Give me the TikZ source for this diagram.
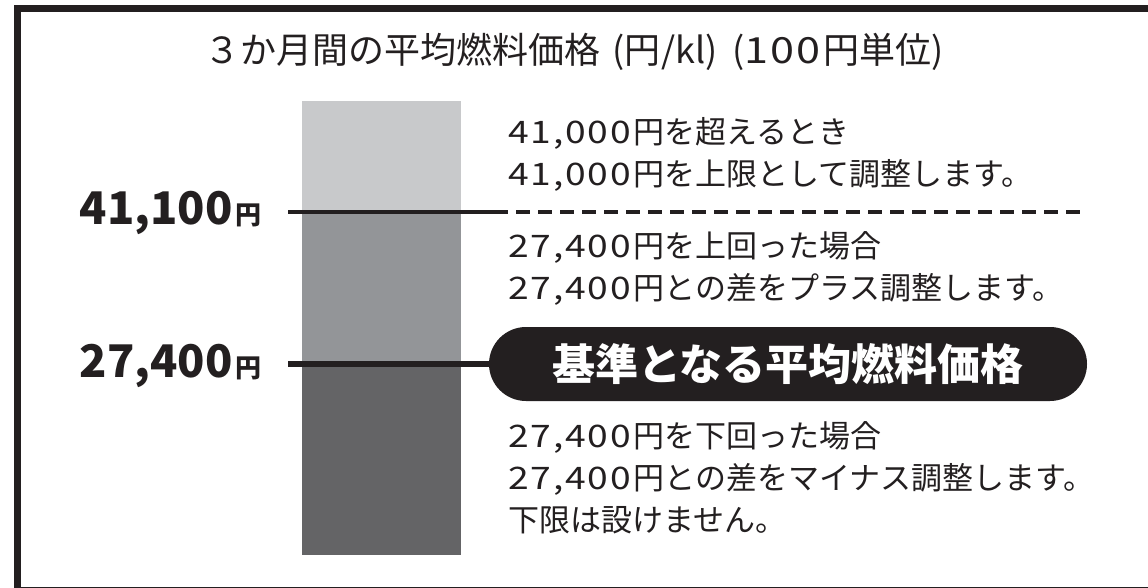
\documentclass[tikz,border=0pt]{standalone}
\usepackage{fontspec}
\usepackage{graphicx}
\setmainfont{Noto Sans CJK JP}
\newfontfamily\digs[LetterSpace=5]{Noto Sans CJK JP}
\newcommand\nm[1]{\scalebox{1.2}[1]{\digs #1}\hspace{0.08em}}
\definecolor{ink}{HTML}{231F20}
\definecolor{barlight}{HTML}{C8C9CB}
\definecolor{barmid}{HTML}{939598}
\definecolor{bardark}{HTML}{646466}
\tikzset{
  body/.style={anchor=west, inner sep=0pt, text=ink, align=left,
    font=\fontsize{31}{42}\selectfont},
  price/.style={anchor=east, inner sep=0pt, text=ink},
  level/.style={draw=ink, line width=3.2pt},
  baseline/.style={draw=ink, line width=6.5pt},
  dashline/.style={draw=ink, line width=3.2pt, dash pattern=on 14pt off 8pt},
  pill/.style={rectangle, rounded corners=37pt, fill=ink, text=white,
    minimum width=598pt, minimum height=74pt, inner sep=0pt,
    font=\fontsize{43}{43}\selectfont\bfseries},
}
\begin{document}
\begin{tikzpicture}[x=1pt,y=-1pt]
\clip (0,0) rectangle (1148,587);
\fill[white] (0,0) rectangle (1148,587);
% frame
\draw[ink, line width=7pt] (17.5,8) rectangle (1175,590);
% title
\node[inner sep=0pt, text=ink, font=\fontsize{36}{36}\selectfont] (title) at (574,52)
  {３か月間の平均燃料価格\hspace{12pt}(円\hspace{1pt}/kl)\hspace{14pt}(\nm{100}円単位)};
% bar
\fill[barlight] (302,101) rectangle (461,212);
\fill[barmid] (302,212) rectangle (461,365);
\fill[bardark] (302,365) rectangle (461,555);
% price labels
\node[price] (p41) at (262,213)
  {\fontsize{45}{45}\selectfont\bfseries 41,100\hspace{3pt}\fontsize{26}{26}\selectfont 円};
\node[price] (p27) at (262,366)
  {\fontsize{45}{45}\selectfont\bfseries 27,400\hspace{3pt}\fontsize{26}{26}\selectfont 円};
% pill
\node[pill] (base) at (788,364) {基準となる平均燃料価格};
% lines
\coordinate (u0) at (288,212);
\coordinate (u1) at (494,212);
\coordinate (u2) at (1086,212);
\draw[level] (u0) -- (u1);
\draw[dashline] (u1) -- (u2);
\coordinate (b0) at (288,364);
\draw[baseline] (b0) -- (base.west);
% texts
\node[body] (t1) at (508,154) {\nm{41,000}円を超えるとき\\\nm{41,000}円を上限として調整します。};
\node[body] (t2) at (508,268) {\nm{27,400}円を上回った場合\\\nm{27,400}円との差をプラス調整します。};
\node[body] (t3) at (508,478) {\nm{27,400}円を下回った場合\\\nm{27,400}円との差をマイナス調整します。\\下限は設けません。};
\end{tikzpicture}
\end{document}
